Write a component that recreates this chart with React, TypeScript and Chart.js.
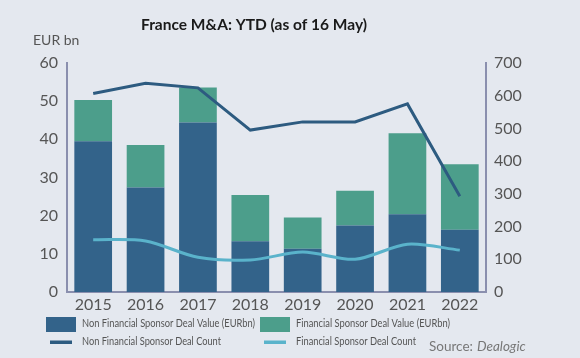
import React, { useEffect, useRef } from "react";
import { Chart, registerables } from "chart.js";

Chart.register(...registerables);

const categories = ["2015", "2016", "2017", "2018", "2019", "2020", "2021", "2022"];
const nonFsValue = [39.5, 27.4, 44.4, 13.3, 11.3, 17.4, 20.4, 16.3];
const fsValue = [10.8, 11.1, 9.2, 12.1, 8.2, 9.1, 21.2, 17.2];
const nonFsCount = [607, 638, 624, 495, 520, 520, 575, 293];
const fsCount = [160, 156, 106, 98, 122, 100, 146, 128];
const leftTicks = [0, 10, 20, 30, 40, 50, 60];
const rightTicks = [0, 100, 200, 300, 400, 500, 600, 700];

const titleText = "France M&A: YTD (as of 16 May)";
const unitText = "EUR bn";

const C_DARK = "#33638a";
const C_GREEN = "#4c9e8b";
const C_LINE_DARK = "#2d5b80";
const C_LINE_LIGHT = "#5ab3cb";
const BG = "#e4e8ef";
const AXIS = "#8a8fae";
const FONT = "Lato, 'Open Sans', sans-serif";

const decorPlugin = {
  id: "decor",
  afterDraw(chart: any) {
    const ctx = chart.ctx;
    ctx.save();
    ctx.fillStyle = "#1a1a1a";
    ctx.font = `bold 15.5px ${FONT}`;
    ctx.textAlign = "center";
    ctx.textBaseline = "middle";
    ctx.fillText(titleText, 254, 25);

    ctx.fillStyle = "#555";
    ctx.font = `14px ${FONT}`;
    ctx.textAlign = "left";
    ctx.fillText(unitText, 33, 40);

    // legend
    const ds = chart.data.datasets;
    ctx.font = `11px ${FONT}`;
    const items = [
      { i: 0, x: 46, y: 324, box: true, w: 173 },
      { i: 1, x: 260, y: 324, box: true, w: 154 },
      { i: 2, x: 46, y: 342, box: false, w: 139 },
      { i: 3, x: 260, y: 342, box: false, w: 120 },
    ];
    for (const it of items) {
      const d = ds[it.i];
      if (it.box) {
        ctx.fillStyle = d.backgroundColor;
        ctx.fillRect(it.x, it.y - 7, 30, 15);
      } else {
        ctx.fillStyle = d.borderColor;
        ctx.fillRect(it.x + 4, it.y - 1.5, 22, 3.5);
      }
      ctx.fillStyle = "#555";
      ctx.fillText(d.label, it.x + 36, it.y - 1, it.w);
    }

    ctx.fillStyle = "#777";
    ctx.font = `13.5px ${FONT}`;
    ctx.fillText("Source:", 429, 347);
    ctx.font = `italic 13.5px ${FONT}`;
    ctx.fillText("Dealogic", 477, 347);
    ctx.restore();
  },
};

export default function App() {
  const ref = useRef<HTMLCanvasElement | null>(null);
  useEffect(() => {
    if (!ref.current) return;
    const chart = new Chart(ref.current, {
      type: "bar",
      data: {
        labels: categories,
        datasets: [
          {
            type: "bar",
            label: "Non Financial Sponsor Deal Value (EURbn)",
            data: nonFsValue,
            backgroundColor: C_DARK,
            yAxisID: "y",
            stack: "s",
            order: 2,
            barPercentage: 0.72,
            categoryPercentage: 1,
          },
          {
            type: "bar",
            label: "Financial Sponsor Deal Value (EURbn)",
            data: fsValue,
            backgroundColor: C_GREEN,
            yAxisID: "y",
            stack: "s",
            order: 2,
            barPercentage: 0.72,
            categoryPercentage: 1,
          },
          {
            type: "line",
            label: "Non Financial Sponsor Deal Count",
            data: nonFsCount,
            borderColor: C_LINE_DARK,
            backgroundColor: C_LINE_DARK,
            borderWidth: 3,
            pointRadius: 0,
            tension: 0,
            yAxisID: "y1",
            order: 0,
          },
          {
            type: "line",
            label: "Financial Sponsor Deal Count",
            data: fsCount,
            borderColor: C_LINE_LIGHT,
            backgroundColor: C_LINE_LIGHT,
            borderWidth: 3,
            pointRadius: 0,
            tension: 0.3,
            yAxisID: "y1",
            order: 0,
          },
        ] as any,
      },
      options: {
        animation: false,
        responsive: false,
        maintainAspectRatio: false,
        layout: { padding: { top: 63, left: 0, right: 0, bottom: 0 } },
        plugins: {
          legend: { display: false },
          title: { display: false },
          tooltip: { enabled: false },
        },
        scales: {
          x: {
            stacked: true,
            grid: { display: false, drawTicks: false },
            border: { display: true, color: AXIS, width: 2 },
            ticks: { color: "#555", font: { family: FONT, size: 16 }, padding: 3 },
            afterFit(s: any) {
              s.height = 66;
            },
          },
          y: {
            stacked: true,
            position: "left",
            min: 0,
            max: 60,
            afterBuildTicks(s: any) {
              s.ticks = leftTicks.map((v) => ({ value: v }));
            },
            grid: { display: false, drawTicks: false },
            border: { display: true, color: AXIS, width: 2 },
            ticks: { color: "#555", font: { family: FONT, size: 16 }, padding: 9 },
            afterFit(s: any) {
              s.width = 67;
            },
          },
          y1: {
            position: "right",
            min: 0,
            max: 700,
            afterBuildTicks(s: any) {
              s.ticks = rightTicks.map((v) => ({ value: v }));
            },
            grid: { display: false, drawTicks: false },
            border: { display: true, color: AXIS, width: 2 },
            ticks: { color: "#555", font: { family: FONT, size: 16 }, padding: 8 },
            afterFit(s: any) {
              s.width = 94;
            },
          },
        },
      } as any,
      plugins: [decorPlugin],
    });
    return () => chart.destroy();
  }, []);
  return (
    <div style={{ position: "fixed", left: 0, top: 0, width: 580, height: 358, background: BG }}>
      <canvas ref={ref} width={580} height={358} style={{ width: 580, height: 358 }} />
    </div>
  );
}
